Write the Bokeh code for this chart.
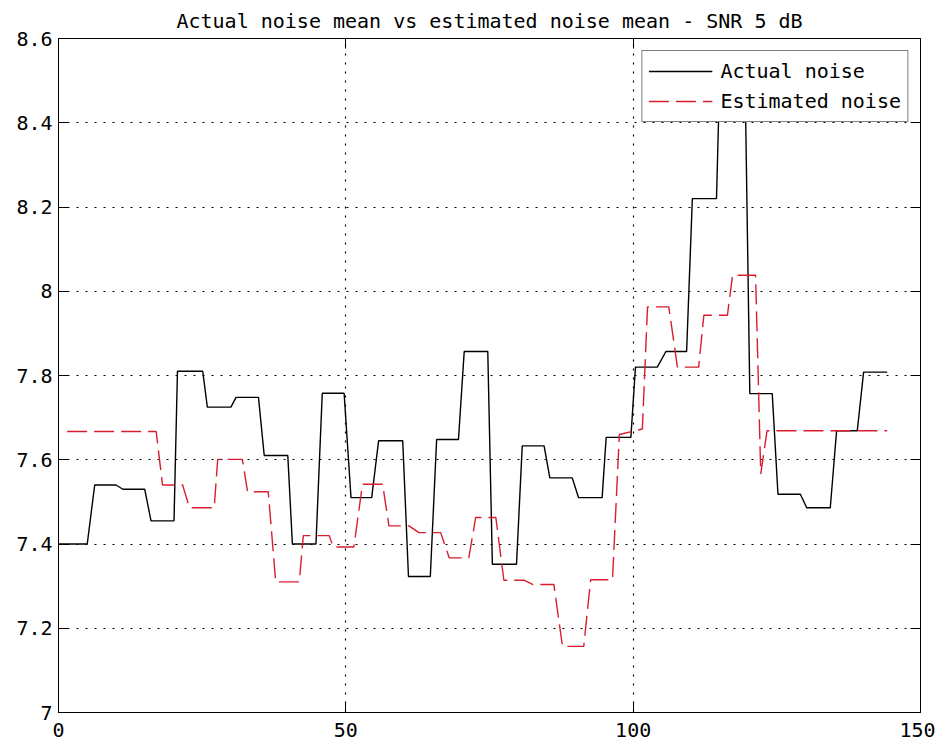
from bokeh.plotting import figure
from bokeh.models import Range1d, FixedTicker, LinearAxis, Legend, LegendItem, Grid
from bokeh.embed import file_html
from bokeh.resources import INLINE

# ---- data ----
actual_x = [0, 5, 6.3, 10, 11.2, 15, 16.1, 20.1, 20.7, 25.1, 25.9, 30, 30.9, 34.8,
            35.8, 39.9, 40.7, 44.8, 45.9, 49.7, 50.9, 54.5, 55.7, 59.9, 60.9, 64.7,
            65.8, 69.6, 70.6, 74.7, 75.5, 79.7, 80.7, 84.5, 85.5, 89.4, 90.5, 94.6,
            95.3, 99.6, 100.4, 104.2, 105.7, 109.3, 110.3, 114.5, 115.0, 119.5, 120.3,
            124.2, 125.2, 129.1, 130.2, 134.3, 135.4, 139.0, 140.1, 144.2]
actual_y = [7.40, 7.40, 7.54, 7.54, 7.53, 7.53, 7.455, 7.455, 7.81, 7.81, 7.725, 7.725,
            7.748, 7.748, 7.61, 7.61, 7.40, 7.40, 7.758, 7.758, 7.51, 7.51, 7.645, 7.645,
            7.323, 7.323, 7.648, 7.648, 7.857, 7.857, 7.352, 7.352, 7.633, 7.633, 7.557,
            7.557, 7.51, 7.51, 7.653, 7.653, 7.82, 7.82, 7.857, 7.857, 8.22, 8.22, 8.48,
            8.48, 7.757, 7.757, 7.518, 7.518, 7.486, 7.486, 7.669, 7.669, 7.808, 7.808]

est_x = [1.5, 17.0, 18.1, 21.6, 22.8, 27.1, 27.7, 32.0, 32.9, 36.5, 37.8, 41.9, 42.6,
         47.1, 47.8, 51.4, 52.9, 56.4, 57.5, 61.0, 62.7, 66.5, 68.0, 71.4, 72.6, 76.1,
         77.5, 81.0, 82.5, 86.2, 87.7, 91.4, 92.6, 96.4, 97.6, 101.6, 102.5, 106.2,
         107.7, 111.4, 112.3, 116.4, 117.3, 121.3, 122.2, 123.3, 144.2]
est_y = [7.667, 7.667, 7.54, 7.54, 7.486, 7.486, 7.601, 7.601, 7.524, 7.524, 7.31, 7.31,
         7.42, 7.42, 7.393, 7.393, 7.542, 7.542, 7.443, 7.443, 7.427, 7.427, 7.367, 7.367,
         7.463, 7.463, 7.314, 7.314, 7.304, 7.304, 7.157, 7.157, 7.315, 7.315, 7.66,
         7.673, 7.963, 7.963, 7.82, 7.82, 7.943, 7.943, 8.038, 8.038, 7.566, 7.669, 7.669]

x_ticks = [0, 50, 100, 150]
y_ticks = [7.0, 7.2, 7.4, 7.6, 7.8, 8.0, 8.2, 8.4, 8.6]
y_tick_labels = ["7", "7.2", "7.4", "7.6", "7.8", "8", "8.2", "8.4", "8.6"]
title_text = "Actual noise mean vs estimated noise mean - SNR 5 dB"
series_names = ["Actual noise", "Estimated noise"]

FONT = "DejaVu Sans Mono"
FS = "20px"

p = figure(width=935, height=744, output_backend="svg", toolbar_location=None,
           x_range=Range1d(0, 150), y_range=Range1d(7, 8.6),
           min_border_left=58, min_border_right=15, min_border_top=38,
           min_border_bottom=32, x_axis_location=None, y_axis_location=None)

# remove any default grids
p.center = [c for c in p.center if not isinstance(c, Grid)]

p.title.text = title_text
p.title.text_font = FONT
p.title.text_font_size = FS
p.title.text_font_style = "normal"
p.title.align = "center"
p.title.standoff = 12
p.title.text_color = "black"

p.outline_line_color = "black"
p.outline_line_width = 1
p.background_fill_color = "white"
p.border_fill_color = "white"

def make_axis(ticks, labels=None, show_labels=True):
    ax = LinearAxis(ticker=FixedTicker(ticks=ticks))
    ax.major_tick_in = 10
    ax.major_tick_out = 0
    ax.minor_tick_line_color = None
    ax.axis_line_color = "black"
    ax.major_tick_line_color = "black"
    ax.major_label_text_font = FONT
    ax.major_label_text_font_size = FS
    ax.major_label_text_color = "black"
    if labels is not None:
        ax.major_label_overrides = {t: l for t, l in zip(ticks, labels)}
    if not show_labels:
        ax.major_label_text_font_size = "0px"
        ax.major_label_text_color = None
    return ax

xb = make_axis(x_ticks, [str(v) for v in x_ticks])
xb.major_label_standoff = 10
p.add_layout(xb, "below")
yl = make_axis(y_ticks, y_tick_labels)
yl.major_label_standoff = 6
p.add_layout(yl, "left")
xt = make_axis(x_ticks, show_labels=False)
p.add_layout(xt, "above")
yr = make_axis(y_ticks, show_labels=False)
p.add_layout(yr, "right")

gx = Grid(dimension=0, ticker=FixedTicker(ticks=x_ticks))
gy = Grid(dimension=1, ticker=FixedTicker(ticks=y_ticks))
for g in (gx, gy):
    g.grid_line_color = "black"
    g.grid_line_dash = "2 7"
    g.grid_line_width = 1.2
    p.add_layout(g, "center")

r1 = p.line(actual_x, actual_y, line_color="black", line_width=1.4)
r2 = p.line(est_x, est_y, line_color="#d81e2c", line_width=1.4, line_dash="20 7")

legend = Legend(items=[LegendItem(label=series_names[0], renderers=[r1]),
                       LegendItem(label=series_names[1], renderers=[r2])],
                location="top_right")
legend.margin = 12
legend.padding = 6
legend.spacing = 2
legend.glyph_width = 64
legend.glyph_height = 28
legend.label_height = 28
legend.label_standoff = 8
legend.label_text_font = FONT
legend.label_text_font_size = FS
legend.label_text_color = "black"
legend.border_line_color = "black"
legend.border_line_width = 1
legend.background_fill_color = "white"
legend.background_fill_alpha = 1.0
p.add_layout(legend, "center")

open("out.html", "w").write(file_html(p, INLINE))
